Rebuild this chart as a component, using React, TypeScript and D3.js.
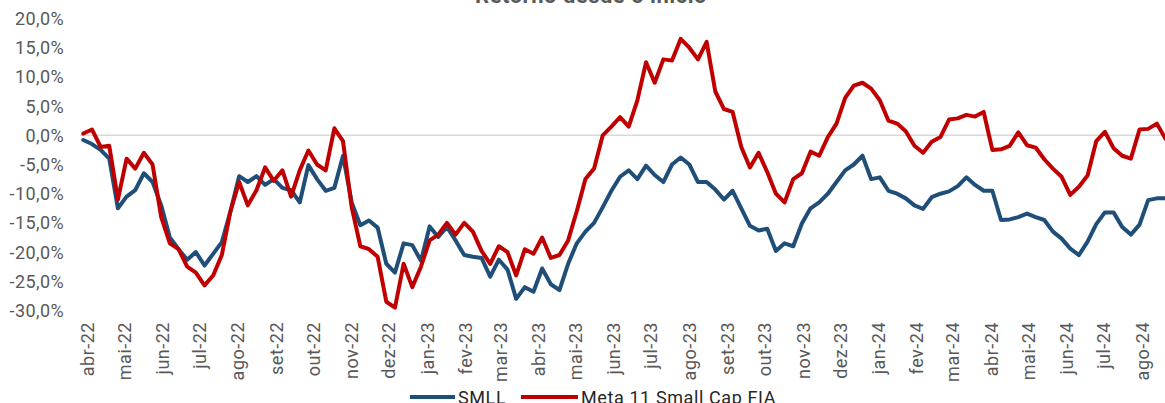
import React from "react";
import * as d3 from "d3";

const seriesNames = ["SMLL", "Meta 11 Small Cap FIA"];
const seriesColors = ["#1F4E79", "#C00000"];

// weekly readings (%), starting 2022-03-29
const smll = [
  -0.8, -1.5, -2.5, -4.0, -12.5, -10.5, -9.4, -6.5, -8.0, -12.0,
  -17.5, -19.5, -21.3, -20.0, -22.3, -20.3, -18.3, -13.0, -7.0, -8.0,
  -7.0, -8.5, -7.5, -9.0, -9.4, -11.5, -5.1, -7.5, -9.5, -9.0,
  -3.5, -11.5, -15.4, -14.6, -15.8, -22.0, -23.5, -18.5, -18.8, -21.5,
  -15.6, -17.4, -15.7, -18.0, -20.5, -20.8, -21.0, -24.2, -21.3, -23.0,
  -28.0, -26.0, -26.8, -22.8, -25.5, -26.5, -22.0, -18.5, -16.5, -15.0,
  -12.3, -9.5, -7.1, -6.0, -7.5, -5.2, -6.8, -8.0, -5.0, -3.8,
  -5.0, -8.0, -8.0, -9.3, -11.0, -9.5, -12.5, -15.5, -16.3, -16.0,
  -19.8, -18.5, -19.0, -15.1, -12.5, -11.5, -10.0, -8.0, -6.0, -5.0,
  -3.5, -7.5, -7.2, -9.5, -10.0, -10.8, -12.0, -12.6, -10.6, -10.0,
  -9.6, -8.7, -7.2, -8.5, -9.5, -9.5, -14.5, -14.4, -14.0, -13.4,
  -14.0, -14.5, -16.5, -17.7, -19.4, -20.5, -18.2, -15.2, -13.2, -13.2,
  -15.7, -17.0, -15.3, -11.1, -10.8, -10.8,
];

const meta11 = [
  0.3, 1.0, -2.0, -1.8, -11.0, -4.0, -5.7, -3.0, -5.0, -14.0,
  -18.5, -19.5, -22.5, -23.5, -25.7, -24.0, -20.5, -13.0, -8.0, -12.0,
  -9.4, -5.5, -7.8, -6.0, -10.5, -6.0, -2.6, -5.0, -6.0, 1.2,
  -1.0, -12.3, -19.0, -19.5, -20.8, -28.5, -29.5, -22.0, -26.0, -22.5,
  -18.0, -17.0, -15.0, -17.0, -15.0, -16.5, -19.8, -22.0, -19.0, -20.0,
  -24.0, -19.5, -20.3, -17.5, -21.0, -20.5, -18.0, -13.0, -7.5, -5.7,
  0.0, 1.5, 3.1, 1.5, 6.0, 12.5, 9.0, 13.0, 12.8, 16.5,
  15.0, 13.0, 16.0, 7.5, 4.5, 4.0, -2.0, -5.5, -3.0, -6.3,
  -10.0, -11.5, -7.5, -6.5, -2.8, -3.5, -0.3, 2.0, 6.4, 8.5,
  9.0, 8.0, 6.0, 2.5, 2.0, 0.7, -1.8, -3.0, -1.1, -0.3,
  2.7, 2.9, 3.5, 3.2, 4.0, -2.5, -2.4, -1.8, 0.5, -1.7,
  -2.1, -4.1, -5.7, -7.1, -10.2, -8.8, -6.9, -1.0, 0.6, -2.2,
  -3.5, -4.0, 1.0, 1.1, 2.0, -0.6,
];

const monthLabels = [
  "abr-22", "mai-22", "jun-22", "jul-22", "ago-22", "set-22", "out-22", "nov-22", "dez-22",
  "jan-23", "fev-23", "mar-23", "abr-23", "mai-23", "jun-23", "jul-23", "ago-23", "set-23",
  "out-23", "nov-23", "dez-23", "jan-24", "fev-24", "mar-24", "abr-24", "mai-24", "jun-24",
  "jul-24", "ago-24",
];

const yTicks = [20, 15, 10, 5, 0, -5, -10, -15, -20, -25, -30];

const startDate = new Date(2022, 2, 29);
const dates = smll.map((_, i) => d3.timeDay.offset(startDate, 7 * i));
const monthDates = monthLabels.map((_, i) => d3.timeMonth.offset(new Date(2022, 3, 1), i));

const W = 1165;
const H = 403;
const FONT = "Roboto, 'Noto Sans', sans-serif";

export default function App() {
  const x = d3
    .scaleTime()
    .domain([new Date(2022, 3, 1), new Date(2024, 7, 1)])
    .range([87, 1142]);
  const y = d3.scaleLinear().domain([-30, 20]).range([310.5, 18.5]);
  const fmt = (v: number) => d3.format(".1f")(v).replace(".", ",").replace("−", "-") + "%";

  const series = [smll, meta11];
  const line = (vals: number[]) =>
    d3
      .line<number>()
      .x((_, i) => x(dates[i]))
      .y((v) => y(v))(vals) as string;

  return (
    <svg
      width={W}
      height={H}
      style={{ position: "absolute", left: 0, top: 0, background: "#fff" }}
      fontFamily={FONT}
    >
      <text x={591} y={3} textAnchor="middle" fontSize={22} fontWeight={700} fill="#595959" letterSpacing={0.5}>
        Retorno desde o início
      </text>
      <line x1={80} x2={W} y1={y(0)} y2={y(0)} stroke="#D9D9D9" strokeWidth={1.5} />
      {yTicks.map((t) => (
        <text
          key={t}
          x={64}
          y={y(t)}
          textAnchor="end"
          dominantBaseline="central"
          fontSize={18}
          letterSpacing={0.4}
          fill="#595959"
        >
          {fmt(t)}
        </text>
      ))}
      {monthLabels.map((m, i) => {
        const xx = x(monthDates[i]);
        return (
          <text
            key={m}
            transform={`translate(${xx},322) rotate(-90)`}
            textAnchor="end"
            dominantBaseline="central"
            fontSize={18}
            letterSpacing={0.5}
            fill="#595959"
          >
            {m}
          </text>
        );
      })}
      {series.map((vals, k) => (
        <path
          key={k}
          d={line(vals)}
          fill="none"
          stroke={seriesColors[k]}
          strokeWidth={4}
          strokeLinejoin="round"
          strokeLinecap="round"
        />
      ))}
      <g>
        <line x1={410} x2={455} y1={397} y2={397} stroke={seriesColors[0]} strokeWidth={4} />
        <text x={458} y={397} dominantBaseline="central" fontSize={18} letterSpacing={0.6} fill="#262626">
          {seriesNames[0]}
        </text>
        <line x1={521} x2={578} y1={397} y2={397} stroke={seriesColors[1]} strokeWidth={4} />
        <text x={581} y={397} dominantBaseline="central" fontSize={18} letterSpacing={0.6} fill="#262626">
          {seriesNames[1]}
        </text>
      </g>
    </svg>
  );
}
